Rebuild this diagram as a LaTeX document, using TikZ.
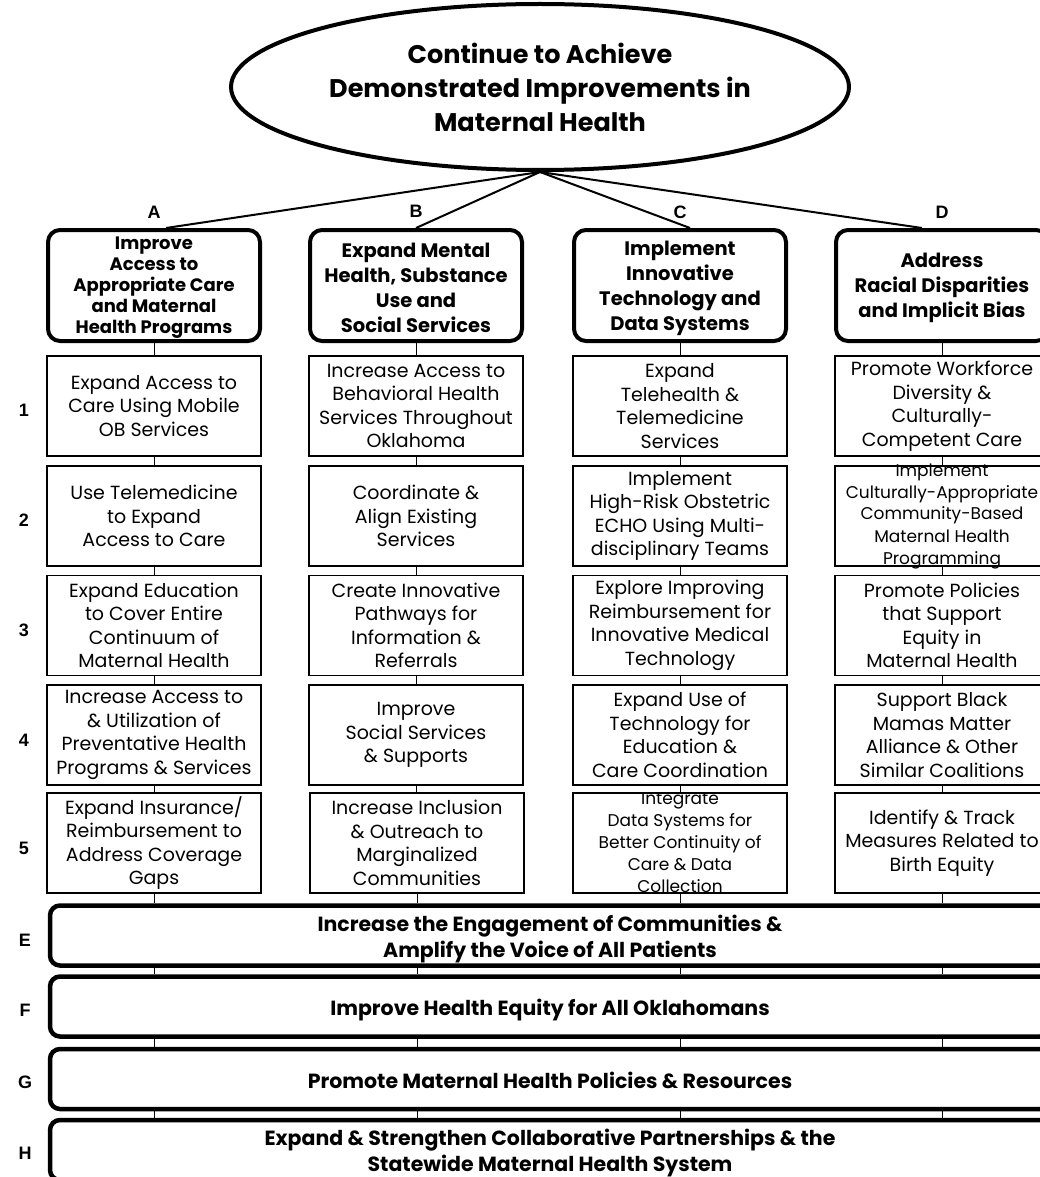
\documentclass[tikz,border=0pt]{standalone}
\usepackage{fontspec}
\setmainfont{Poppins}
\newfontfamily\lblfont{Liberation Sans}
\usetikzlibrary{shapes.geometric}

\begin{document}
\begin{tikzpicture}[x=1pt,y=-1pt]
\useasboundingbox (0,0) rectangle (1040,1177);
\tikzstyle{cell}=[rectangle, draw, line width=1.3pt, minimum width=214pt,
    minimum height=100pt, inner sep=0pt, align=center,
    font=\fontsize{19}{23.5}\selectfont]
\tikzstyle{celltext}=[inner sep=0pt, align=center,
    font=\fontsize{17}{22}\selectfont]
\tikzstyle{head}=[rectangle, rounded corners=12pt, draw, line width=4pt,
    minimum width=212pt, minimum height=111pt, inner sep=0pt]
\tikzstyle{headtext}=[inner sep=0pt, align=center,
    font=\bfseries\fontsize{19.5}{25}\selectfont]
\tikzstyle{bar}=[rectangle, rounded corners=10pt, draw, line width=4.5pt,
    minimum width=1000pt, minimum height=60pt, inner sep=0pt]
\tikzstyle{bartext}=[inner sep=0pt, align=center,
    font=\bfseries\fontsize{20.5}{25.7}\selectfont]
\tikzstyle{tag}=[inner sep=0pt, font=\lblfont\bfseries\fontsize{18}{20}\selectfont]
\tikzstyle{link}=[line width=0.8pt]
\tikzstyle{spoke}=[line width=2pt]

% goal
\node[ellipse, draw, line width=4pt, minimum width=618pt, minimum height=166pt,
    inner sep=0pt, align=center, font=\bfseries\fontsize{25.5}{34}\selectfont]
    (goal) at (540,87) {Continue to Achieve\\Demonstrated Improvements in\\Maternal Health};

% column headers
\node[head] (hA) at (154,285.5) {};
\node[head] (hB) at (416,285.5) {};
\node[head] (hC) at (680,285.5) {};
\node[head] (hD) at (942,285.5) {};
\node[headtext, font=\bfseries\fontsize{18}{21}\selectfont] (hAt) at ([yshift=-2pt]hA)
    {Improve\\Access to\\Appropriate Care\\and Maternal\\Health Programs};
\node[headtext] (hBt) at ([yshift=-2.5pt]hB) {Expand Mental\\Health, Substance\\Use and\\Social Services};
\node[headtext] (hCt) at ([yshift=-2.5pt]hC) {Implement\\Innovative\\Technology and\\Data Systems};
\node[headtext] (hDt) at ([yshift=-2.5pt]hD) {Address\\Racial Disparities\\and Implicit Bias};

\node[tag] (lA) at (154,212) {A};
\node[tag] (lB) at (416,211) {B};
\node[tag] (lC) at (680,212) {C};
\node[tag] (lD) at (942,212) {D};

% column A
\node[cell] (a1) at (154,406) {Expand Access to\\Care Using Mobile\\OB Services};
\node[cell] (a2) at (154,516) {Use Telemedicine\\to Expand\\Access to Care};
\node[cell] (a3) at (154,625.5) {Expand Education\\to Cover Entire\\Continuum of\\Maternal Health};
\node[cell] (a4) at (154,735) {Increase Access to\\\& Utilization of\\Preventative Health\\Programs \& Services};
\node[cell] (a5) at (154,843) {Expand Insurance/\\Reimbursement to\\Address Coverage\\Gaps};

% column B
\node[cell] (b1) at (416,406) {Increase Access to\\Behavioral Health\\Services Throughout\\Oklahoma};
\node[cell] (b2) at (416,516) {Coordinate \&\\Align Existing\\Services};
\node[cell] (b3) at (416,625.5) {Create Innovative\\Pathways for\\Information \&\\Referrals};
\node[cell] (b4) at (416,735) {Improve\\Social Services\\\& Supports};
\node[cell] (b5) at (417,843) {Increase Inclusion\\\& Outreach to\\Marginalized\\Communities};

% column C
\node[cell] (c1) at (680,406) {Expand\\Telehealth \&\\Telemedicine\\Services};
\node[cell] (c2) at (680,516) {Implement\\High-Risk Obstetric\\ECHO Using Multi-\\disciplinary Teams};
\node[cell] (c3) at (680,625.5) {Explore Improving\\Reimbursement for\\Innovative Medical\\Technology};
\node[cell] (c4) at (680,735) {Expand Use of\\Technology for\\Education \&\\Care Coordination};
\node[cell] (c5) at (680,843) {};
\node[celltext] (c5t) at (c5) {Integrate\\Data Systems for\\Better Continuity of\\Care \& Data\\Collection};

% column D
\node[cell] (d1) at (942,406) {Promote Workforce\\Diversity \&\\Culturally-\\Competent Care};
\node[cell] (d2) at (942,516) {};
\node[celltext] (d2t) at (d2) {Implement\\Culturally-Appropriate\\Community-Based\\Maternal Health\\Programming};
\node[cell] (d3) at (942,625.5) {Promote Policies\\that Support\\Equity in\\Maternal Health};
\node[cell] (d4) at (942,735) {Support Black\\Mamas Matter\\Alliance \& Other\\Similar Coalitions};
\node[cell] (d5) at (942,843) {Identify \& Track\\Measures Related to\\Birth Equity};

\node[tag] (r1) at (24,410) {1};
\node[tag] (r2) at (24,520) {2};
\node[tag] (r3) at (24,630) {3};
\node[tag] (r4) at (24,740) {4};
\node[tag] (r5) at (24,848) {5};

% cross-cutting bars
\node[bar] (E) at (550,935.5) {};
\node[bar] (F) at (550,1006.5) {};
\node[bar] (G) at (550,1079) {};
\node[bar] (H) at (550,1150) {};
\node[bartext] (Et) at ([yshift=-3.5pt]E) {Increase the Engagement of Communities \&\\Amplify the Voice of All Patients};
\node[bartext] (Ft) at ([yshift=-3.5pt]F) {Improve Health Equity for All Oklahomans};
\node[bartext] (Gt) at ([yshift=-1pt]G) {Promote Maternal Health Policies \& Resources};
\node[bartext] (Ht) at ([yshift=-3pt]H) {Expand \& Strengthen Collaborative Partnerships \& the\\Statewide Maternal Health System};

\node[tag] (rE) at (25,940) {E};
\node[tag] (rF) at (25,1010) {F};
\node[tag] (rG) at (25,1082) {G};
\node[tag] (rH) at (25,1153) {H};

% spokes from the goal
\draw[spoke] (goal.south) -- ([xshift=12pt]hA.north);
\draw[spoke] (goal.south) -- (hB.north);
\draw[spoke] (goal.south) -- ([xshift=10pt]hC.north);
\draw[spoke] (goal.south) -- ([xshift=-20pt]hD.north);

% column links
\draw[link] (hA) -- (a1);
\draw[link] (a1) -- (a2);
\draw[link] (a2) -- (a3);
\draw[link] (a3) -- (a4);
\draw[link] (a4) -- (a5);
\draw[link] (hB) -- (b1);
\draw[link] (b1) -- (b2);
\draw[link] (b2) -- (b3);
\draw[link] (b3) -- (b4);
\draw[link] (b4) -- (b5);
\draw[link] (hC) -- (c1);
\draw[link] (c1) -- (c2);
\draw[link] (c2) -- (c3);
\draw[link] (c3) -- (c4);
\draw[link] (c4) -- (c5);
\draw[link] (hD) -- (d1);
\draw[link] (d1) -- (d2);
\draw[link] (d2) -- (d3);
\draw[link] (d3) -- (d4);
\draw[link] (d4) -- (d5);

% links down through the bars
\draw[link] (a5.south) -- (a5.south |- E.north);
\draw[link] (b5.south) -- (b5.south |- E.north);
\draw[link] (c5.south) -- (c5.south |- E.north);
\draw[link] (d5.south) -- (d5.south |- E.north);
\draw[link] (a5.south |- E.south) -- (a5.south |- F.north);
\draw[link] (b5.south |- E.south) -- (b5.south |- F.north);
\draw[link] (c5.south |- E.south) -- (c5.south |- F.north);
\draw[link] (d5.south |- E.south) -- (d5.south |- F.north);
\draw[link] (a5.south |- F.south) -- (a5.south |- G.north);
\draw[link] (b5.south |- F.south) -- (b5.south |- G.north);
\draw[link] (c5.south |- F.south) -- (c5.south |- G.north);
\draw[link] (d5.south |- F.south) -- (d5.south |- G.north);
\draw[link] (a5.south |- G.south) -- (a5.south |- H.north);
\draw[link] (b5.south |- G.south) -- (b5.south |- H.north);
\draw[link] (c5.south |- G.south) -- (c5.south |- H.north);
\draw[link] (d5.south |- G.south) -- (d5.south |- H.north);
\end{tikzpicture}
\end{document}
